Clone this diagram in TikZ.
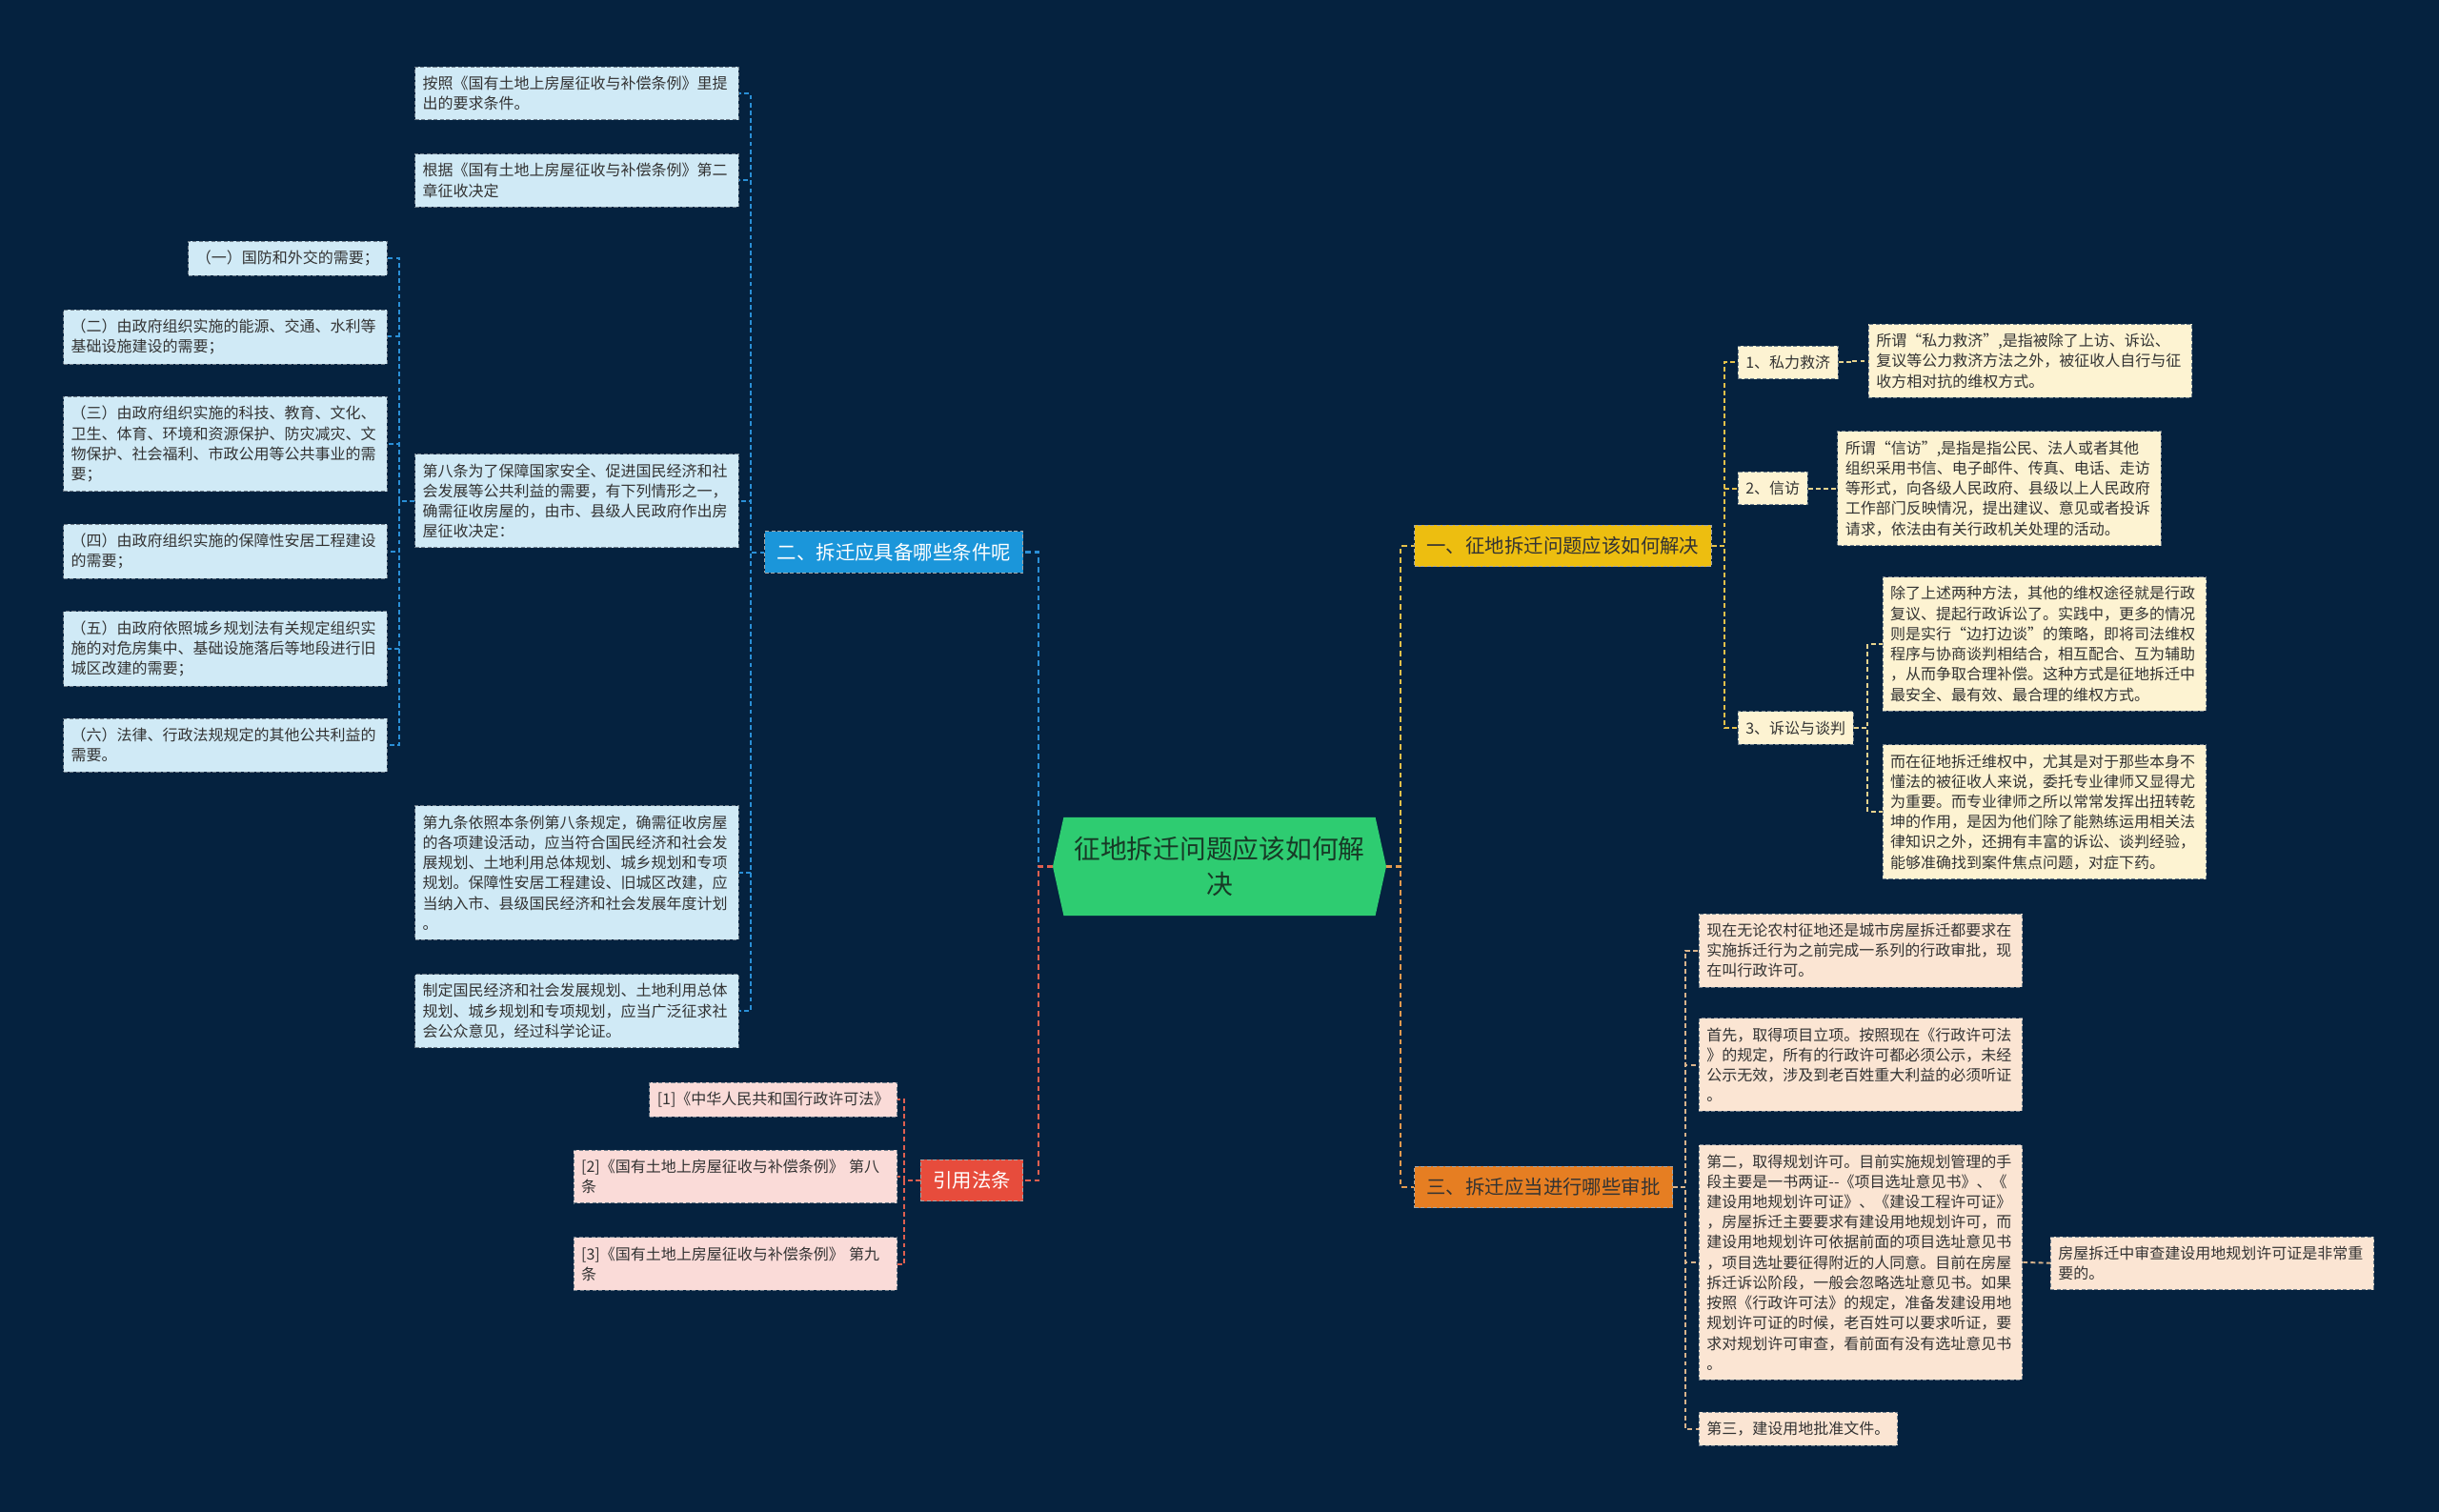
\documentclass[tikz,border=0pt]{standalone}
\usepackage{fontspec}
\newfontfamily\cjk{Noto Sans CJK SC}
\definecolor{bgc}{HTML}{05223F}
\definecolor{cgreen}{HTML}{2ECC71}
\definecolor{ctext}{HTML}{173A26}
\definecolor{byellow}{HTML}{EDBE10}
\definecolor{bblue}{HTML}{1B96DA}
\definecolor{borange}{HTML}{E67E22}
\definecolor{bred}{HTML}{E74C3C}
\definecolor{lblue}{HTML}{D0EAF6}
\definecolor{lyellow}{HTML}{FDF3D2}
\definecolor{lorange}{HTML}{FBE5D3}
\definecolor{lred}{HTML}{FADBD8}
\definecolor{lborder}{HTML}{6F7D8A}
\definecolor{ltext}{HTML}{333333}
\definecolor{kblue}{HTML}{2A8FD6}
\definecolor{kyellow}{HTML}{E5C14A}
\definecolor{korange}{HTML}{E39A4F}
\definecolor{kred}{HTML}{E06050}
\definecolor{kcream}{HTML}{E6D38E}
\definecolor{ktan}{HTML}{D9B48C}
\pgfdeclarelayer{bglayer}
\pgfdeclarelayer{shapelayer}
\pgfsetlayers{bglayer,shapelayer,main}
\begin{document}
\begin{tikzpicture}[x=1pt,y=-1pt,
  leaf/.style={font=\cjk\fontsize{9.8}{13}\selectfont, align=left, inner xsep=5pt, inner ysep=6pt,
     draw=lborder, dash pattern=on 2.5pt off 1.5pt, line width=0.5pt, text=ltext},
  wleaf/.style={leaf, text width=198pt},
  bl/.style={fill=lblue},
  yl/.style={fill=lyellow},
  ol/.style={fill=lorange},
  rl/.style={fill=lred},
  branch/.style={font=\cjk\fontsize{12.5}{15}\selectfont, inner xsep=8pt, inner ysep=7.5pt,
     draw=black!35, dash pattern=on 2.5pt off 1.5pt, line width=0.5pt},
  conn/.style={line width=1.2pt, dash pattern=on 3pt off 2pt},
  mconn/.style={line width=1.4pt, dash pattern=on 3.5pt off 2.5pt}
]
\begin{pgfonlayer}{bglayer}
\fill[bgc] (0,0) rectangle (1568,972);
\end{pgfonlayer}
\useasboundingbox (0,0) rectangle (1568,972);

% center
\node[font=\cjk\fontsize{17}{23}\selectfont, align=center, text=ctext, inner xsep=10pt, inner ysep=12pt, minimum width=214pt] (c) at (784,557) {征地拆迁问题应该如何解\\决};
\begin{pgfonlayer}{shapelayer}
\fill[cgreen] (c.west) -- ([xshift=7pt]c.north west) -- ([xshift=-7pt]c.north east) -- (c.east)
  -- ([xshift=-7pt]c.south east) -- ([xshift=7pt]c.south west) -- cycle;
\end{pgfonlayer}

% branches
\node[branch, fill=byellow, text=black!80, anchor=west] (b1) at (909,351) {一、征地拆迁问题应该如何解决};
\node[branch, fill=borange, text=black!80, anchor=west] (b3) at (909,763) {三、拆迁应当进行哪些审批};
\node[branch, fill=bblue, text=white, anchor=east] (b2) at (658,355) {二、拆迁应具备哪些条件呢};
\node[branch, fill=bred, text=white, anchor=east] (b4) at (658,759) {引用法条};

% left blue leaves
\node[wleaf, bl, anchor=east] (l1) at (475,60) {按照《国有土地上房屋征收与补偿条例》里提\\出的要求条件。};
\node[wleaf, bl, anchor=east] (l2) at (475,116) {根据《国有土地上房屋征收与补偿条例》第二\\章征收决定};
\node[wleaf, bl, anchor=east] (l3) at (475,322) {第八条为了保障国家安全、促进国民经济和社\\会发展等公共利益的需要，有下列情形之一，\\确需征收房屋的，由市、县级人民政府作出房\\屋征收决定：};
\node[wleaf, bl, anchor=east] (l4) at (475,561) {第九条依照本条例第八条规定，确需征收房屋\\的各项建设活动，应当符合国民经济和社会发\\展规划、土地利用总体规划、城乡规划和专项\\规划。保障性安居工程建设、旧城区改建，应\\当纳入市、县级国民经济和社会发展年度计划\\。};
\node[wleaf, bl, anchor=east] (l5) at (475,650) {制定国民经济和社会发展规划、土地利用总体\\规划、城乡规划和专项规划，应当广泛征求社\\会公众意见，经过科学论证。};

\node[leaf, bl, anchor=east] (a1) at (249,166) {（一）国防和外交的需要；};
\node[wleaf, bl, anchor=east] (a2) at (249,216.5) {（二）由政府组织实施的能源、交通、水利等\\基础设施建设的需要；};
\node[wleaf, bl, anchor=east] (a3) at (249,285.5) {（三）由政府组织实施的科技、教育、文化、\\卫生、体育、环境和资源保护、防灾减灾、文\\物保护、社会福利、市政公用等公共事业的需\\要；};
\node[wleaf, bl, anchor=east] (a4) at (249,354.5) {（四）由政府组织实施的保障性安居工程建设\\的需要；};
\node[wleaf, bl, anchor=east] (a5) at (249,417) {（五）由政府依照城乡规划法有关规定组织实\\施的对危房集中、基础设施落后等地段进行旧\\城区改建的需要；};
\node[wleaf, bl, anchor=east] (a6) at (249,479) {（六）法律、行政法规规定的其他公共利益的\\需要。};

% references
\node[leaf, rl, anchor=east] (r1) at (577,707) {[1]《中华人民共和国行政许可法》};
\node[wleaf, rl, anchor=east] (r2) at (577,756.5) {[2]《国有土地上房屋征收与补偿条例》 第八\\条};
\node[wleaf, rl, anchor=east] (r3) at (577,812.5) {[3]《国有土地上房屋征收与补偿条例》 第九\\条};

% right yellow
\node[leaf, yl, anchor=west] (s1) at (1117,233) {1、私力救济};
\node[wleaf, yl, anchor=west] (t1) at (1201,232) {所谓“私力救济”,是指被除了上访、诉讼、\\复议等公力救济方法之外，被征收人自行与征\\收方相对抗的维权方式。};
\node[leaf, yl, anchor=west] (s2) at (1117,314) {2、信访};
\node[wleaf, yl, anchor=west] (t2) at (1181,314) {所谓“信访”,是指是指公民、法人或者其他\\组织采用书信、电子邮件、传真、电话、走访\\等形式，向各级人民政府、县级以上人民政府\\工作部门反映情况，提出建议、意见或者投诉\\请求，依法由有关行政机关处理的活动。};
\node[leaf, yl, anchor=west] (s3) at (1117,468) {3、诉讼与谈判};
\node[wleaf, yl, anchor=west] (t3) at (1210,414) {除了上述两种方法，其他的维权途径就是行政\\复议、提起行政诉讼了。实践中，更多的情况\\则是实行“边打边谈”的策略，即将司法维权\\程序与协商谈判相结合，相互配合、互为辅助\\，从而争取合理补偿。这种方式是征地拆迁中\\最安全、最有效、最合理的维权方式。};
\node[wleaf, yl, anchor=west] (t4) at (1210,522) {而在征地拆迁维权中，尤其是对于那些本身不\\懂法的被征收人来说，委托专业律师又显得尤\\为重要。而专业律师之所以常常发挥出扭转乾\\坤的作用，是因为他们除了能熟练运用相关法\\律知识之外，还拥有丰富的诉讼、谈判经验，\\能够准确找到案件焦点问题，对症下药。};

% right orange
\node[wleaf, ol, anchor=west] (u1) at (1092,611) {现在无论农村征地还是城市房屋拆迁都要求在\\实施拆迁行为之前完成一系列的行政审批，现\\在叫行政许可。};
\node[wleaf, ol, anchor=west] (u2) at (1092,684.5) {首先，取得项目立项。按照现在《行政许可法\\》的规定，所有的行政许可都必须公示，未经\\公示无效，涉及到老百姓重大利益的必须听证\\。};
\node[wleaf, ol, anchor=west] (u3) at (1092,811.5) {第二，取得规划许可。目前实施规划管理的手\\段主要是一书两证--《项目选址意见书》、《\\建设用地规划许可证》、《建设工程许可证》\\，房屋拆迁主要要求有建设用地规划许可，而\\建设用地规划许可依据前面的项目选址意见书\\，项目选址要征得附近的人同意。目前在房屋\\拆迁诉讼阶段，一般会忽略选址意见书。如果\\按照《行政许可法》的规定，准备发建设用地\\规划许可证的时候，老百姓可以要求听证，要\\求对规划许可审查，看前面有没有选址意见书\\。};
\node[leaf, ol, anchor=west] (u4) at (1092,918.5) {第三，建设用地批准文件。};
\node[wleaf, ol, anchor=west] (u5) at (1318,812) {房屋拆迁中审查建设用地规划许可证是非常重\\要的。};

% connectors: center to branches
\draw[mconn, kyellow] (c.east) -- ++(9,0) |- (b1.west);
\draw[mconn, korange] (c.east) -- ++(9,0) |- (b3.west);
\draw[mconn, kblue] (c.west) -- ++(-9,0) |- (b2.east);
\draw[mconn, kred] (c.west) -- ++(-9,0) |- (b4.east);

% blue branch
\foreach \n in {l1,l2,l3,l4,l5}
  \draw[conn, kblue] (b2.west) -- ++(-9,0) |- (\n.east);
\foreach \n in {a1,a2,a3,a4,a5,a6}
  \draw[conn, kblue] (l3.west) -- ++(-10,0) |- (\n.east);

% red branch
\foreach \n in {r1,r2,r3}
  \draw[conn, kred] (b4.west) -- ++(-10,0) |- (\n.east);

% yellow branch
\foreach \n in {s1,s2,s3}
  \draw[conn, kyellow] (b1.east) -- ++(8,0) |- (\n.west);
\draw[conn, kcream] (s1.east) -- ++(9,0) |- (t1.west);
\draw[conn, kcream] (s2.east) -- ++(8,0) |- (t2.west);
\draw[conn, kcream] (s3.east) -- ++(9,0) |- (t3.west);
\draw[conn, kcream] (s3.east) -- ++(9,0) |- (t4.west);

% orange branch
\foreach \n in {u1,u2,u3,u4}
  \draw[conn, ktan] (b3.east) -- ++(8,0) |- (\n.west);
\draw[conn, ktan] (u3.east) -- (u5.west);
\end{tikzpicture}
\end{document}
